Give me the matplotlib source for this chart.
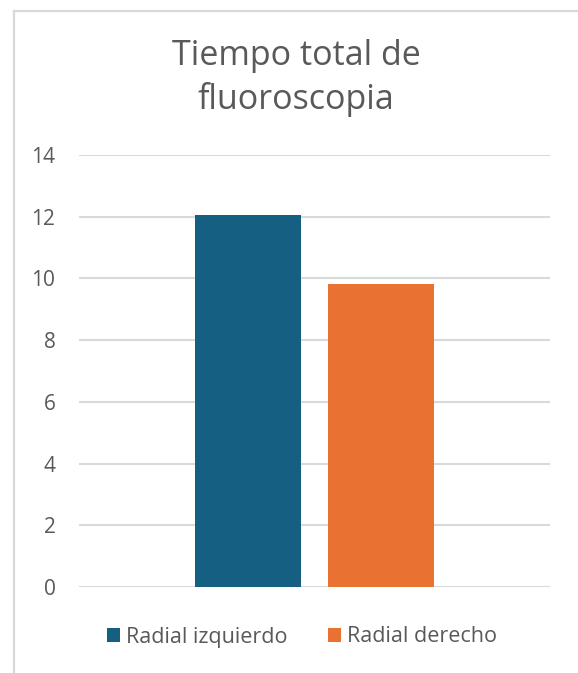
import numpy as np
import matplotlib.pyplot as plt
from matplotlib.lines import Line2D

plt.rcParams['font.family'] = ['Open Sans', 'DejaVu Sans']

title = 'Tiempo total de\nfluoroscopia'
series_names = ['Radial izquierdo', 'Radial derecho']
series_values = [12.05, 9.82]
series_colors = ['#156082', '#E97132']
y_ticks = [0, 2, 4, 6, 8, 10, 12, 14]

text_color = '#595959'
grid_color = '#d9d9d9'

fig = plt.figure(figsize=(5.78, 6.73), dpi=100)
ax = fig.add_axes([79 / 578, 1 - 587 / 673, 471 / 578, 432 / 673])

width = 0.225
offset = 0.142
x = np.arange(1)
for i, (name, val, col) in enumerate(zip(series_names, series_values, series_colors)):
    ax.bar(x + (i - 0.5) * 2 * offset, [val], width=width, color=col, label=name, zorder=3)

ax.set_xlim(-0.5, 0.5)
ax.set_ylim(0, 14)
ax.set_yticks(y_ticks)
ax.set_xticks([])
ax.tick_params(axis='y', length=0, pad=17, labelsize=15, labelcolor=text_color)
ax.yaxis.grid(True, color=grid_color, linewidth=1.5, zorder=0)
for s in ax.spines.values():
    s.set_visible(False)

fig.text(296 / 578, 1 - 78 / 673, title, ha='center', va='center', fontsize=24.5,
         color=text_color, linespacing=1.33)

fig.legend(loc='center', bbox_to_anchor=(0.522, 1 - 637 / 673), ncol=2, frameon=False,
           fontsize=15.5, labelcolor=text_color, handlelength=0.62, handleheight=0.62,
           handletextpad=0.25, columnspacing=1.9)

# chart outline (left and top edges)
fig.add_artist(Line2D([13.5 / 578, 13.5 / 578], [0, 1 - 10.5 / 673], color=grid_color,
                      linewidth=1.6, transform=fig.transFigure))
fig.add_artist(Line2D([13.5 / 578, 1], [1 - 10.5 / 673, 1 - 10.5 / 673], color=grid_color,
                      linewidth=1.6, transform=fig.transFigure))

fig.savefig('out.png', dpi=100)
